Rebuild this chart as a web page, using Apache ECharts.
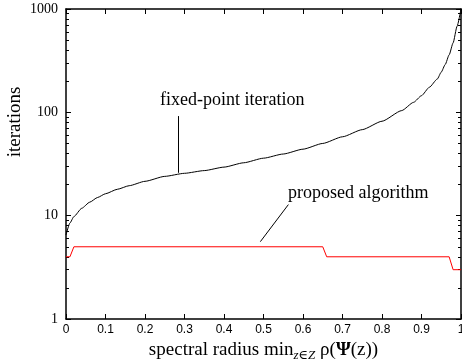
<!DOCTYPE html>
<html>
<head>
<meta charset="utf-8">
<script src="https://cdn.jsdelivr.net/npm/echarts@6/dist/echarts.min.js"></script>
<style>
  html, body { margin: 0; padding: 0; background: #fff; }
  #chart { width: 462px; height: 359px; }
</style>
</head>
<body>
<div id="chart"></div>
<script>
// fixed-point iteration curve
const fixedX = [0, 0.01, 0.02, 0.04, 0.06, 0.08, 0.1, 0.13, 0.16, 0.2, 0.25, 0.3, 0.35, 0.4, 0.45, 0.5,
  0.55, 0.6, 0.65, 0.7, 0.75, 0.8, 0.85, 0.88, 0.9, 0.92, 0.94, 0.95, 0.96, 0.97, 0.98, 0.99, 1.0];
const fixedY = [6.5, 8.5, 9.8, 11.8, 13.5, 15, 16.3, 18, 19.5, 21.5, 24, 25.7, 27.3, 29.5, 32.5, 36,
  39.5, 44, 50, 58, 68, 82, 104, 125, 145, 175, 210, 245, 290, 360, 470, 680, 1000];

// proposed algorithm (step line)
const propX = [0, 0.01, 0.02, 0.65, 0.66, 0.97, 0.98, 1.0];
const propY = [4, 4, 5, 5, 4, 4, 3, 3];

const xTickLabels = ["0", "0.1", "0.2", "0.3", "0.4", "0.5", "0.6", "0.7", "0.8", "0.9", "1"];
const yMajor = [1, 10, 100, 1000];
const yMinor = [2, 3, 4, 5, 6, 7, 8, 9, 20, 30, 40, 50, 60, 70, 80, 90, 200, 300, 400, 500, 600, 700, 800, 900];

const serif = "'Liberation Serif', 'DejaVu Serif', serif";
const sans = "'Liberation Sans', Arial, sans-serif";

const chart = echarts.init(document.getElementById("chart"));

const frame = { show: true, onZero: false, lineStyle: { color: "#000", width: 1.5 } };
const noAxisLine = { show: false, onZero: false };

const option = {
  animation: false,
  backgroundColor: "#fff",
  grid: { left: 66, right: 1, top: 9, bottom: 40, containLabel: false, outerBoundsMode: "none" },
  xAxis: [
    {
      type: "value", min: 0, max: 1, interval: 0.1, position: "bottom",
      axisLine: frame,
      axisTick: { show: true, inside: true, length: 5, lineStyle: { color: "#000", width: 1 } },
      axisLabel: {
        color: "#000", fontFamily: sans, fontSize: 12, margin: 5,
        formatter: (v) => xTickLabels[Math.round(v * 10)]
      },
      splitLine: { show: false },
      name: "spectral radius {n|min}{s|z∈Z} {n|ρ(}{b|Ψ}{n|(z))}",
      nameLocation: "middle", nameGap: 17,
      nameTextStyle: {
        color: "#000", fontFamily: serif, fontSize: 19,
        rich: {
          n: { fontFamily: serif, fontSize: 19, color: "#000" },
          s: { fontFamily: serif, fontSize: 13, fontStyle: "italic", color: "#000", padding: [10, 0, 0, 0] },
          b: { fontFamily: serif, fontSize: 19, fontWeight: "bold", color: "#000" }
        }
      }
    },
    {
      type: "value", min: 0, max: 1, interval: 0.1, position: "top",
      axisLine: frame,
      axisTick: { show: true, inside: true, length: 5, lineStyle: { color: "#000", width: 1 } },
      axisLabel: { show: false },
      splitLine: { show: false }
    }
  ],
  yAxis: [
    {
      type: "log", logBase: 10, min: 1, max: 1000, position: "left",
      axisLine: frame,
      axisTick: { show: true, inside: true, length: 5, customValues: yMajor, lineStyle: { color: "#000", width: 1 } },
      axisLabel: {
        color: "#000", fontFamily: serif, fontSize: 14, margin: 8, customValues: yMajor,
        formatter: (v) => String(Math.round(v))
      },
      splitLine: { show: false }
    },
    {
      type: "log", logBase: 10, min: 1, max: 1000, position: "left",
      axisLine: noAxisLine,
      axisTick: { show: true, inside: true, length: 3, customValues: yMinor, lineStyle: { color: "#000", width: 1 } },
      axisLabel: { show: false },
      splitLine: { show: false }
    },
    {
      type: "log", logBase: 10, min: 1, max: 1000, position: "right",
      axisLine: frame,
      axisTick: { show: true, inside: true, length: 5, customValues: yMajor, lineStyle: { color: "#000", width: 1 } },
      axisLabel: { show: false },
      splitLine: { show: false }
    },
    {
      type: "log", logBase: 10, min: 1, max: 1000, position: "right",
      axisLine: noAxisLine,
      axisTick: { show: true, inside: true, length: 3, customValues: yMinor, lineStyle: { color: "#000", width: 1 } },
      axisLabel: { show: false },
      splitLine: { show: false }
    }
  ],
  series: [
    {
      name: "fixed-point iteration", type: "line", smooth: 0.2, smoothMonotone: "x",
      data: fixedX.map((x, i) => [x, fixedY[i]]),
      showSymbol: false, lineStyle: { color: "#000", width: 1 },
      markLine: {
        silent: true, symbol: "none", label: { show: false },
        lineStyle: { color: "#000", width: 1, type: "solid" },
        data: [[{ coord: [0.285, 26] }, { coord: [0.285, 92] }]]
      }
    },
    {
      name: "proposed algorithm", type: "line",
      data: propX.map((x, i) => [x, propY[i]]),
      showSymbol: false, lineStyle: { color: "#ff0000", width: 1 },
      markLine: {
        silent: true, symbol: "none", label: { show: false },
        lineStyle: { color: "#000", width: 1, type: "solid" },
        data: [[{ coord: [0.492, 5.6] }, { coord: [0.563, 12.8] }]]
      }
    }
  ],
  graphic: [
    {
      type: "text", x: 15, y: 122, rotation: Math.PI / 2,
      style: { text: "iterations", font: "19px " + serif, fill: "#000", align: "center", verticalAlign: "middle" }
    },
    { type: "text", left: 160, top: 91, style: { text: "fixed-point iteration", font: "18px " + serif, fill: "#000" } },
    { type: "text", left: 288, top: 184, style: { text: "proposed algorithm", font: "18px " + serif, fill: "#000" } }
  ]
};

chart.setOption(option);
</script>
</body>
</html>
